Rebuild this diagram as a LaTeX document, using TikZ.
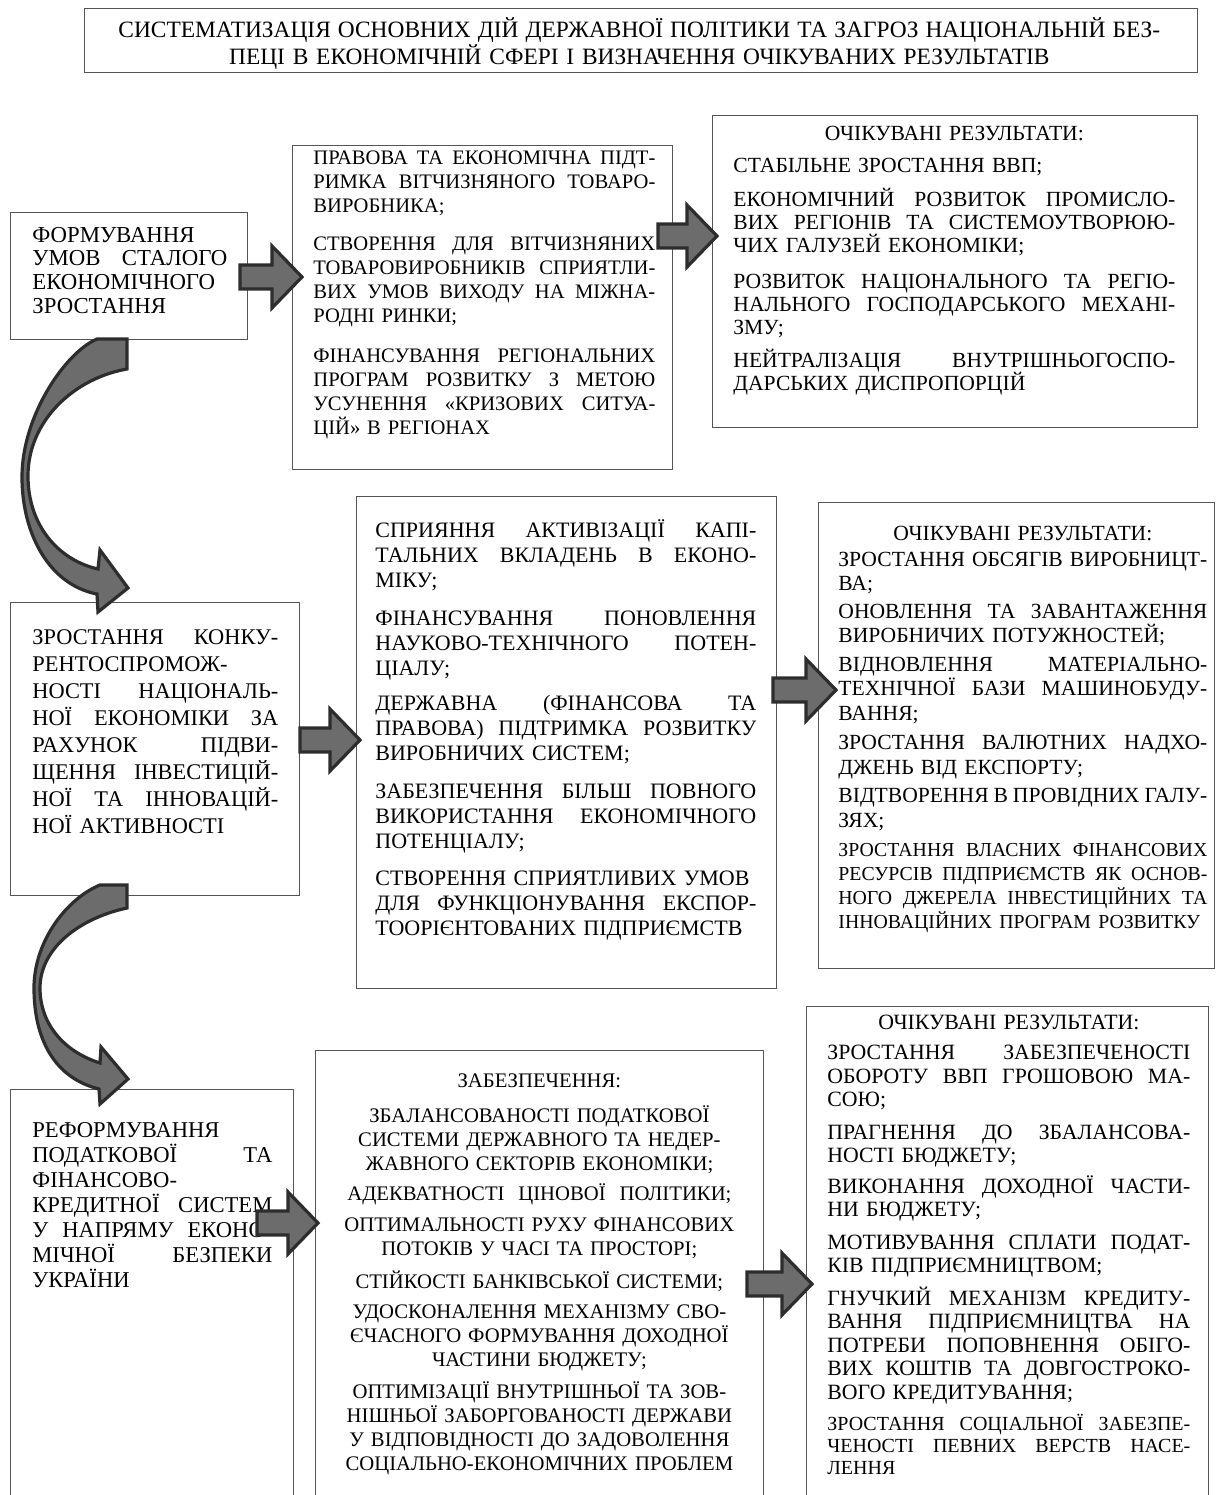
\documentclass[tikz,border=0pt]{standalone}
\usepackage{fontspec}
\setmainfont{Liberation Serif}
\usetikzlibrary{calc}
\definecolor{arrfill}{RGB}{108,108,108}
\definecolor{arrline}{RGB}{45,45,45}
\definecolor{boxline}{RGB}{85,85,85}
\def\jend{}
\def\jsplit#1 #2\jend{#1\ifx\jend#2\jend\else\hskip 0.25em plus 1fill minus 0.1em\relax\jsplit#2\jend\fi}
\newcommand\lnJ[1]{\hbox to\linewidth{\jsplit#1 \jend}\par}
\newcommand\lnL[1]{\hbox to\linewidth{#1\hss}\par}
\newcommand\lnC[1]{\hbox to\linewidth{\hss#1\hss}\par}
\newcommand\pgap[1]{\vspace{#1}}
\setlength\parskip{0pt}
\newcommand\fs[2]{\fontsize{#1}{#2}\selectfont}
\newcommand\blockarrow[2]{%
  \draw[barrow] let \p1=(#1), \p2=(#2) in
   (\x1,\y1+6pt) -- (\x2-15pt,\y1+6pt) -- (\x2-15pt,\y1+15.5pt) -- (\x2,\y1)
   -- (\x2-15pt,\y1-15.5pt) -- (\x2-15pt,\y1-6pt) -- (\x1,\y1-6pt) -- cycle;}
\tikzset{
  box/.style={draw=boxline, line width=0.7pt, rectangle, inner sep=0pt, anchor=north west},
  txt/.style={anchor=base west, inner sep=0pt, text width=#1},
  barrow/.style={fill=arrfill, draw=arrline, line width=1.6pt, line join=miter},
}
\begin{document}
\begin{tikzpicture}[x=0.5pt, y=-0.5pt]
\useasboundingbox (0,0) rectangle (1216,1495);
\clip (0,0) rectangle (1216,1495);
\fill[white] (0,0) rectangle (1216,1495);

% ---------- boxes ----------
\node[box, minimum width=1113*0.5pt, minimum height=64*0.5pt] (title) at (84,8) {};
\node[box, minimum width=237*0.5pt, minimum height=127*0.5pt] (a1) at (10,212) {};
\node[box, minimum width=380*0.5pt, minimum height=324*0.5pt] (a2) at (292,145) {};
\node[box, minimum width=485*0.5pt, minimum height=312*0.5pt] (a3) at (712,115) {};
\node[box, minimum width=289*0.5pt, minimum height=293*0.5pt] (b1) at (10,602) {};
\node[box, minimum width=420*0.5pt, minimum height=492*0.5pt] (b2) at (356,496) {};
\node[box, minimum width=396*0.5pt, minimum height=466*0.5pt] (b3) at (818,502) {};
\node[box, minimum width=283*0.5pt, minimum height=440*0.5pt] (c1) at (10,1089) {};
\node[box, minimum width=448*0.5pt, minimum height=480*0.5pt] (c2) at (315,1050) {};
\node[box, minimum width=402*0.5pt, minimum height=520*0.5pt] (c3) at (806,1006) {};

% ---------- texts ----------
\node[txt=1042*0.5pt, font=\fs{11.7}{13.5}] (titletxt) at (118,37) {%
  \lnJ{СИСТЕМАТИЗАЦІЯ ОСНОВНИХ ДІЙ ДЕРЖАВНОЇ ПОЛІТИКИ ТА ЗАГРОЗ НАЦІОНАЛЬНІЙ БЕЗ-}
  \lnC{ПЕЦІ В ЕКОНОМІЧНІЙ СФЕРІ І ВИЗНАЧЕННЯ ОЧІКУВАНИХ РЕЗУЛЬТАТІВ}};

\node[txt=195*0.5pt, font=\fs{11.4}{11.85}] (a1txt) at (32,242) {%
  \lnL{ФОРМУВАННЯ}
  \lnJ{УМОВ СТАЛОГО}
  \lnL{ЕКОНОМІЧНОГО}
  \lnL{ЗРОСТАННЯ}};

\node[txt=342*0.5pt, font=\fs{10.3}{12}] (a2txt) at (313,164) {%
  \lnJ{ПРАВОВА ТА ЕКОНОМІЧНА ПІДТ-}
  \lnJ{РИМКА ВІТЧИЗНЯНОГО ТОВАРО-}
  \lnL{ВИРОБНИКА;}
  \pgap{7pt}
  \lnJ{СТВОРЕННЯ ДЛЯ ВІТЧИЗНЯНИХ}
  \lnJ{ТОВАРОВИРОБНИКІВ СПРИЯТЛИ-}
  \lnJ{ВИХ УМОВ ВИХОДУ НА МІЖНА-}
  \lnL{РОДНІ РИНКИ;}
  \pgap{8pt}
  \lnJ{ФІНАНСУВАННЯ РЕГІОНАЛЬНИХ}
  \lnJ{ПРОГРАМ РОЗВИТКУ З МЕТОЮ}
  \lnJ{УСУНЕННЯ «КРИЗОВИХ СИТУА-}
  \lnL{ЦІЙ» В РЕГІОНАХ}};

\node[txt=442*0.5pt, font=\fs{10.8}{11.5}] (a3txt) at (733,140) {%
  \lnC{ОЧІКУВАНІ РЕЗУЛЬТАТИ:}
  \pgap{4.5pt}
  \lnL{СТАБІЛЬНЕ ЗРОСТАННЯ ВВП;}
  \pgap{5.5pt}
  \lnJ{ЕКОНОМІЧНИЙ РОЗВИТОК ПРОМИСЛО-}
  \lnJ{ВИХ РЕГІОНІВ ТА СИСТЕМОУТВОРЮЮ-}
  \lnL{ЧИХ ГАЛУЗЕЙ ЕКОНОМІКИ;}
  \pgap{6.5pt}
  \lnJ{РОЗВИТОК НАЦІОНАЛЬНОГО ТА РЕГІО-}
  \lnJ{НАЛЬНОГО ГОСПОДАРСЬКОГО МЕХАНІ-}
  \lnL{ЗМУ;}
  \pgap{5pt}
  \lnJ{НЕЙТРАЛІЗАЦІЯ ВНУТРІШНЬОГОСПО-}
  \lnL{ДАРСЬКИХ ДИСПРОПОРЦІЙ}};

\node[txt=246*0.5pt, font=\fs{11.2}{13.5}] (b1txt) at (32,644) {%
  \lnJ{ЗРОСТАННЯ КОНКУ-}
  \lnL{РЕНТОСПРОМОЖ-}
  \lnJ{НОСТІ НАЦІОНАЛЬ-}
  \lnJ{НОЇ ЕКОНОМІКИ ЗА}
  \lnJ{РАХУНОК ПІДВИ-}
  \lnJ{ЩЕННЯ ІНВЕСТИЦІЙ-}
  \lnJ{НОЇ ТА ІННОВАЦІЙ-}
  \lnL{НОЇ АКТИВНОСТІ}};

\node[txt=381*0.5pt, font=\fs{11}{12.5}] (b2txt) at (375,537) {%
  \lnJ{СПРИЯННЯ АКТИВІЗАЦІЇ КАПІ-}
  \lnJ{ТАЛЬНИХ ВКЛАДЕНЬ В ЕКОНО-}
  \lnL{МІКУ;}
  \pgap{6.5pt}
  \lnJ{ФІНАНСУВАННЯ ПОНОВЛЕННЯ}
  \lnJ{НАУКОВО-ТЕХНІЧНОГО ПОТЕН-}
  \lnL{ЦІАЛУ;}
  \pgap{5pt}
  \lnJ{ДЕРЖАВНА (ФІНАНСОВА ТА}
  \lnJ{ПРАВОВА) ПІДТРИМКА РОЗВИТКУ}
  \lnL{ВИРОБНИЧИХ СИСТЕМ;}
  \pgap{6.5pt}
  \lnJ{ЗАБЕЗПЕЧЕННЯ БІЛЬШ ПОВНОГО}
  \lnJ{ВИКОРИСТАННЯ ЕКОНОМІЧНОГО}
  \lnL{ПОТЕНЦІАЛУ;}
  \pgap{6pt}
  \lnL{СТВОРЕННЯ СПРИЯТЛИВИХ УМОВ}
  \lnJ{ДЛЯ ФУНКЦІОНУВАННЯ ЕКСПОР-}
  \lnL{ТООРІЄНТОВАНИХ ПІДПРИЄМСТВ}};

\node[txt=369*0.5pt, font=\fs{10.8}{12.25}] (b3txt) at (838,540) {%
  \lnC{ОЧІКУВАНІ РЕЗУЛЬТАТИ:}
  \pgap{0.75pt}
  \lnJ{ЗРОСТАННЯ ОБСЯГІВ ВИРОБНИЦТ-}
  \lnL{ВА;}
  \pgap{1.5pt}
  \lnJ{ОНОВЛЕННЯ ТА ЗАВАНТАЖЕННЯ}
  \lnL{ВИРОБНИЧИХ ПОТУЖНОСТЕЙ;}
  \pgap{2pt}
  \lnJ{ВІДНОВЛЕННЯ МАТЕРІАЛЬНО-}
  \lnJ{ТЕХНІЧНОЇ БАЗИ МАШИНОБУДУ-}
  \lnL{ВАННЯ;}
  \pgap{2.5pt}
  \lnJ{ЗРОСТАННЯ ВАЛЮТНИХ НАДХО-}
  \lnL{ДЖЕНЬ ВІД ЕКСПОРТУ;}
  \pgap{2pt}
  \lnJ{ВІДТВОРЕННЯ В ПРОВІДНИХ ГАЛУ-}
  \lnL{ЗЯХ;}
  \pgap{2.5pt}
  {\fs{9.9}{12}%
  \lnJ{ЗРОСТАННЯ ВЛАСНИХ ФІНАНСОВИХ}
  \lnJ{РЕСУРСІВ ПІДПРИЄМСТВ ЯК ОСНОВ-}
  \lnJ{НОГО ДЖЕРЕЛА ІНВЕСТИЦІЙНИХ ТА}
  \lnL{ІННОВАЦІЙНИХ ПРОГРАМ РОЗВИТКУ}}};

\node[txt=240*0.5pt, font=\fs{11.3}{12.5}] (c1txt) at (32,1137) {%
  \lnL{РЕФОРМУВАННЯ}
  \lnJ{ПОДАТКОВОЇ ТА}
  \lnL{ФІНАНСОВО-}
  \lnJ{КРЕДИТНОЇ СИСТЕМ}
  \lnJ{У НАПРЯМУ ЕКОНО-}
  \lnJ{МІЧНОЇ БЕЗПЕКИ}
  \lnL{УКРАЇНИ}};

\node[txt=440*0.5pt, font=\fs{10.35}{12}] (c2txt) at (319,1087) {%
  \lnC{ЗАБЕЗПЕЧЕННЯ:}
  \pgap{5.5pt}
  \lnC{ЗБАЛАНСОВАНОСТІ ПОДАТКОВОЇ}
  \lnC{СИСТЕМИ ДЕРЖАВНОГО ТА НЕДЕР-}
  \lnC{ЖАВНОГО СЕКТОРІВ ЕКОНОМІКИ;}
  \pgap{3pt}
  \lnC{АДЕКВАТНОСТІ \ ЦІНОВОЇ \ ПОЛІТИКИ;}
  \pgap{3.5pt}
  \lnC{ОПТИМАЛЬНОСТІ РУХУ ФІНАНСОВИХ}
  \lnC{ПОТОКІВ У ЧАСІ ТА ПРОСТОРІ;}
  \pgap{4.5pt}
  \lnC{СТІЙКОСТІ БАНКІВСЬКОЇ СИСТЕМИ;}
  \pgap{3pt}
  \lnC{УДОСКОНАЛЕННЯ МЕХАНІЗМУ СВО-}
  \lnC{ЄЧАСНОГО ФОРМУВАННЯ ДОХОДНОЇ}
  \lnC{ЧАСТИНИ БЮДЖЕТУ;}
  \pgap{4pt}
  \lnC{ОПТИМІЗАЦІЇ ВНУТРІШНЬОЇ ТА ЗОВ-}
  \lnC{НІШНЬОЇ ЗАБОРГОВАНОСТІ ДЕРЖАВИ}
  \lnC{У ВІДПОВІДНОСТІ ДО ЗАДОВОЛЕННЯ}
  \lnC{СОЦІАЛЬНО-ЕКОНОМІЧНИХ ПРОБЛЕМ}};

\node[txt=363*0.5pt, font=\fs{10.9}{11.75}] (c3txt) at (827,1029) {%
  \lnC{ОЧІКУВАНІ РЕЗУЛЬТАТИ:}
  \pgap{3.5pt}
  \lnJ{ЗРОСТАННЯ ЗАБЕЗПЕЧЕНОСТІ}
  \lnJ{ОБОРОТУ ВВП ГРОШОВОЮ МА-}
  \lnL{СОЮ;}
  \pgap{4.5pt}
  \lnJ{ПРАГНЕННЯ ДО ЗБАЛАНСОВА-}
  \lnL{НОСТІ БЮДЖЕТУ;}
  \pgap{3.5pt}
  \lnJ{ВИКОНАННЯ ДОХОДНОЇ ЧАСТИ-}
  \lnL{НИ БЮДЖЕТУ;}
  \pgap{4.5pt}
  \lnJ{МОТИВУВАННЯ СПЛАТИ ПОДАТ-}
  \lnL{КІВ ПІДПРИЄМНИЦТВОМ;}
  \pgap{4.5pt}
  \lnJ{ГНУЧКИЙ МЕХАНІЗМ КРЕДИТУ-}
  \lnJ{ВАННЯ ПІДПРИЄМНИЦТВА НА}
  \lnJ{ПОТРЕБИ ПОПОВНЕННЯ ОБІГО-}
  \lnJ{ВИХ КОШТІВ ТА ДОВГОСТРОКО-}
  \lnL{ВОГО КРЕДИТУВАННЯ;}
  \pgap{4.5pt}
  {\fs{10}{11}%
  \lnJ{ЗРОСТАННЯ СОЦІАЛЬНОЇ ЗАБЕЗПЕ-}
  \lnJ{ЧЕНОСТІ ПЕВНИХ ВЕРСТВ НАСЕ-}
  \lnL{ЛЕННЯ}}};

% ---------- straight block arrows ----------
\coordinate (arAs) at (240,277);  \coordinate (arAt) at (302,277);
\coordinate (arBs) at (658,236);  \coordinate (arBt) at (717,236);
\coordinate (arCs) at (300,740);  \coordinate (arCt) at (360,740);
\coordinate (arDs) at (773,690);  \coordinate (arDt) at (836,690);
\coordinate (arEs) at (257,1223); \coordinate (arEt) at (318,1223);
\coordinate (arFs) at (747,1284); \coordinate (arFt) at (812,1284);
\blockarrow{arAs}{arAt}
\blockarrow{arBs}{arBt}
\blockarrow{arCs}{arCt}
\blockarrow{arDs}{arDt}
\blockarrow{arEs}{arEt}
\blockarrow{arFs}{arFt}

% ---------- curved arrows ----------
\draw[barrow] (97,339) -- (127,339) -- (127,369)
  .. controls (75,378) and (28,420) .. (28,476)
  .. controls (28,525) and (58,560) .. (98,569)
  -- (100,550) -- (128,588) -- (98,612) -- (97,594)
  .. controls (50,585) and (22,535) .. (22,477)
  .. controls (22,415) and (66,352) .. (97,339) -- cycle;

\draw[barrow] (100,885) -- (127,885) -- (127,908)
  .. controls (80,918) and (40,948) .. (40,988)
  .. controls (40,1025) and (65,1052) .. (100,1063)
  -- (101,1047) -- (128,1079) -- (100,1104) -- (99,1089)
  .. controls (55,1078) and (34,1040) .. (34,988)
  .. controls (34,940) and (68,898) .. (100,885) -- cycle;
\end{tikzpicture}
\end{document}
